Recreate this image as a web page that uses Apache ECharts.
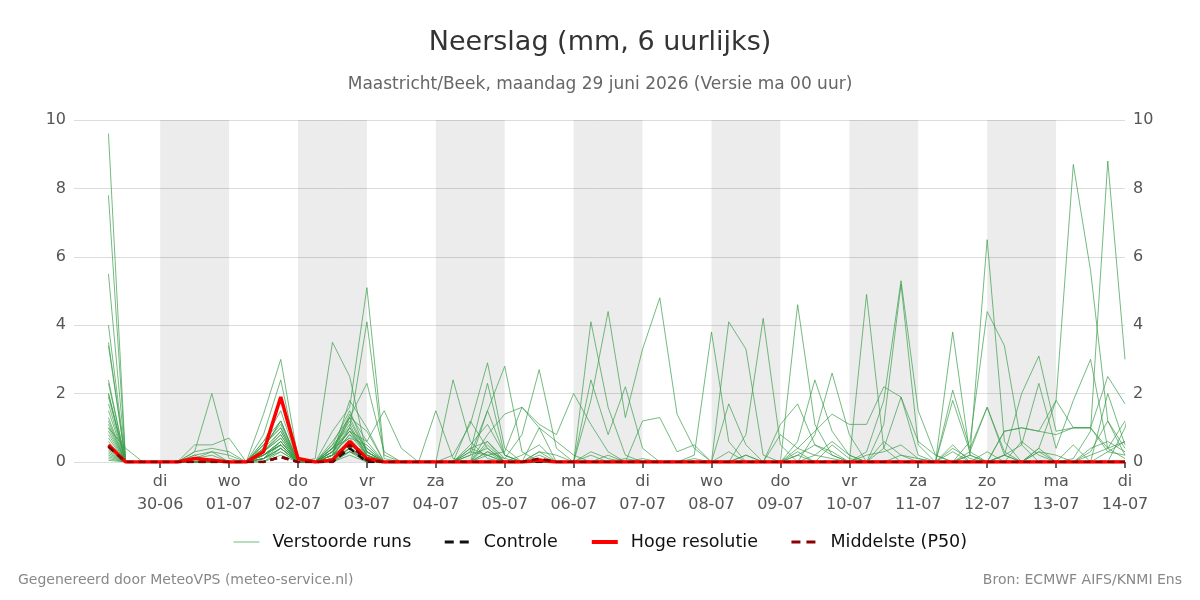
<!DOCTYPE html>
<html>
<head>
<meta charset="utf-8">
<script src="https://cdn.jsdelivr.net/npm/echarts@6/dist/echarts.min.js"></script>
<style>
  html, body { margin: 0; padding: 0; background: #fff; }
  #chart { width: 1200px; height: 600px; }
</style>
</head>
<body>
<div id="chart"></div>
<script>
// 6-hourly steps, hours relative to di 30-06 00:00
const startHour = -18;
const stepHours = 6;

const dayNames = ["di", "wo", "do", "vr", "za", "zo", "ma", "di", "wo", "do", "vr", "za", "zo", "ma", "di"];
const dayDates = ["30-06", "01-07", "02-07", "03-07", "04-07", "05-07", "06-07", "07-07", "08-07", "09-07", "10-07", "11-07", "12-07", "13-07", "14-07"];
const shadedDays = [0, 2, 4, 6, 8, 10, 12];
const yTicks = [0, 2, 4, 6, 8, 10];

// verstoorde runs (ensemble members)
const m01 = [9.6,0,0, 0,0,0.1,0.3, 0.2,0,0.6,1.2, 0,0,0.4,1.3, 0.3,0,0,0, 0,0,0.5,1.1, 0.2,0,0.3,0, 0,0,0.2,0, 0,0,0,0.1, 0,0,0.2,0, 0,0.3,0,0.5, 0.1,0,0.4,1.9, 0.2,0,0,0.3, 1.6,0.2,0,0.4, 0,0,0.3,1.2, 0.4];
const m02 = [7.8,0,0, 0,0,0,0, 0,0,0.3,0.8, 0,0,0.9,1.6, 5.1,0.2,0,0, 0,0,0,0.3, 0,0,0.1,0, 0,0,0,0, 0.1,0,0,0, 0,0,0,0, 0,0,0.2,0.1, 0,0,0,0.2, 0.1,0,0.3,0, 0,0.9,1.0,0.9, 1.8,8.7,5.6,1.2, 0.2];
const m03 = [5.5,0,0, 0,0,0.2,0, 0,0,0.2,0.5, 0,0,0.1,0.3, 0.1,0,0,0, 0,0,1.2,0.4, 0,0,0,0, 0,0,0,0, 0,0,0,0, 0,0,0,0, 0,0,0,0, 0,0,0,0, 0,0,0,0.2, 0,0,0,0, 0,0.1,0.9,8.8, 3.0];
const m04 = [4.0,0,0, 0,0,0,0, 0,0,0.4,0.9, 0,0,0.2,0.8, 0.4,0,0,0, 0,0,0.3,0.2, 0,0,0,0, 0,0,0,0, 0,0,0,0, 0,0,0,0, 0,0,0,0, 0,0,0,0, 0,0,0,0.2, 6.5,0.6,0,0.3, 0,0,0.2,0.4, 0.6];
const m05 = [3.5,0,0, 0,0,0,0, 0,0,0.2,0.6, 0,0,0.3,1.0, 4.1,0.1,0,0, 0,0,0,0, 0,0,0.2,0, 0,0,0,0, 0,0,0,0, 0,0,0,0, 0,0.2,0,0, 0,0,0,0, 0,0,0,0, 0,0,0,0, 0,0,0,0.3, 0.2];
const m06 = [3.4,0,0, 0,0,0,0, 0,0,0.1,0.4, 0,0.1,3.5,2.5, 0.2,0,0,0, 0,0,0.4,0.2, 0,0,0,0, 0,0,0,0, 0,0,0,0, 0,0,0,0, 0,0,0,0, 0,0,0,0, 0,0,0,0, 0,0,0,0, 0,0,0,0, 0];
const m07 = [2.4,0,0, 0,0,0,0, 0,0,1.4,3.0, 0.1,0,0.3,0.9, 0.2,0,0,0, 0,0,0,0.5, 0,0,0,0, 0,4.1,1.6,0.2, 0,0,0,0, 0,0,0,0, 0,0,0,0, 0,0,0,0, 0,0,0,0, 0,0,0,0, 0,0,0,0, 0];
const m08 = [2.3,0,0, 0,0,0,0, 0,0,0.8,2.4, 0,0,0.5,1.5, 0.3,0,0,0, 0,0,0,0, 0,0,0,0, 0,1.8,4.4,1.3, 3.3,4.8,1.4,0.4, 0,0,0,0, 0,0,0,0, 0,0,0,0, 0,0,0,0, 0,0,0,0, 0,0,0,0, 0];
const m09 = [2.0,0,0, 0,0,0.3,2.0, 0.1,0,0.5,1.0, 0,0,0.2,1.8, 1.0,0,0,0, 0,0,0,1.5, 0.2,0,0,0, 0,0,0,0, 0,0,0,0, 0,0,0,0, 0,0,0,0, 0,0,0,0, 0,0,0,0, 0,0,0,0, 0,0,0,0, 0];
const m10 = [1.9,0,0, 0,0,0,0, 0,0,0.6,1.5, 0,0,0.3,0.7, 0.5,0,0,0, 0,0.2,1.1,2.9, 0.4,0,0,0, 0,0,0,0, 0,0,0,0.2, 3.8,0.6,0,0, 0,0,0,0, 0,0,0,0, 0,0,0,0, 0,0,0,0, 0,0,0,0, 0];
const m11 = [1.7,0,0, 0,0,0,0, 0,0,0.4,1.2, 0,0,0.6,1.3, 0.9,0,0,0, 0,0,0.2,1.5, 2.8,0.3,0,0, 0,0,0,0, 0,0,0,0, 0,4.1,3.3,0.2, 0,0,0,0, 0,0,0,0, 0,0,0,0, 0,0,0,0, 0,0,0,0, 0];
const m12 = [1.5,0,0, 0,0,0,0, 0,0,0.3,0.8, 0,0,0.1,1.0, 0.4,0,0,0, 0,0,0,0.3, 0.1,0.8,2.7,0.4, 0,0,0,0, 0,0,0,0, 0,0,0.8,4.2, 0.5,0,0,0, 0,0,0,0, 0,0,0,0, 0,0,0,0, 0,0,0,0, 0];
const m13 = [1.3,0,0, 0,0,0,0, 0,0,0.2,0.6, 0,0,0.2,0.5, 0.3,0,0,0, 0,2.4,0.6,0.1, 0,0,0,0, 0,0,0,0, 0,0,0,0, 0,0,0,0, 0,4.6,1.1,0.2, 0,0,0,0, 0,0,0,0, 0,0,0,0, 0,0,0,0, 0];
const m14 = [1.2,0,0, 0,0,0,0, 0,0,0.1,0.5, 0,0,0.4,1.1, 0.2,0,0,0, 0,0,0.3,2.3, 0.2,0,0,0, 0,0,0,0, 0,0,0,0, 0,0,0,0, 0,0,0,0, 0,4.9,0.4,0, 0,0,0,0, 0,0,0,0, 0,0,0,0, 0];
const m15 = [1.1,0,0, 0,0,0,0, 0,0,0,0.4, 0,0,0,0.3, 0.1,0,0,0, 0,0,0,0, 0,0,0,0, 0,0,0,0, 0,0,0,0, 0,0,0,0, 0,0,0,0, 0,0.3,1.8,5.3, 1.5,0.2,0,0, 0,0,0,0, 0,0,0,0, 0];
const m16 = [1.0,0,0, 0,0,0,0, 0,0,0.3,0.9, 0,0,0.2,0.8, 0.2,0,0,0, 0,0,0,0, 0,0,0,0, 0,0,0,0, 0,0,0,0, 0,0,0,0, 0,0,0,0, 0,0,1.1,5.2, 0.5,0,3.8,0.2, 0,0,0,0, 0,0,0,0, 0];
const m17 = [0.9,0,0, 0,0,0,0, 0,0,0.2,0.5, 0,0,0.3,1.4, 0.6,0,0,0, 0,0,0,0, 0,0,0,0, 0,0,0,0, 0,0,0,0, 0,0,0,0, 0,0,0,0, 0,0,0,0, 0,0,0,0.6, 4.4,3.4,0.5,0, 0,0,0,0, 0];
const m18 = [0.8,0,0, 0,0,0,0, 0,0,0.1,0.4, 0,0,0.1,0.6, 0.1,0,0,0, 0,0,0,0, 0,0,0,0, 0,0,0,0, 0,0,0,0, 0,0,0,0, 0,0,0,0, 0,0,0,0, 0,0,0,0, 0,0.2,2.0,3.1, 0.9,1.0,1.0,0.4, 0.1];
const m19 = [0.7,0,0, 0,0,0,0, 0,0,0.2,0.6, 0,0,0.5,1.0, 0.2,0,0,0, 0,0,0,0.6, 0,0,0,0, 0,0,0,0, 0,0,0,0, 0,0,0,0, 0,0,0,0, 0,0,0,0, 0,0,0,0, 0,0,0,0, 0,0,0,0, 1.0,3.0,1.0,0.3, 0.5];
const m20 = [0.6,0,0, 0,0,0,0, 0,0,0.5,1.0, 0,0,0.4,0.9, 0.3,0,0,0, 0,0,0,0.2, 0.3,1.6,1.1,0.8, 2.0,1.1,0.3,0, 0,0,0,0, 0,0,0,0, 0,0,0,0, 0,0,0,0, 0,0,0,0, 0,0,0,0, 0,0,0,0, 0];
const m21 = [0.5,0,0, 0,0,0,0, 0,0,0.3,0.7, 0,0,0.2,0.5, 0.1,0,0,0, 0,0,0,0, 0,0,0,0, 0,2.4,0.8,2.2, 0.4,0,0,0, 0,0,0,0, 0,0,0.8,2.6, 0.8,0,0,0, 0,0,0,0, 0,0,0,0, 0,0,0,0, 0];
const m22 = [0.45,0,0, 0,0,0,0, 0,0,0.1,0.4, 0,0,0.2,0.5, 0.2,0,0,0, 0,0,0,0, 0,0,1.0,0, 0,0,0,0, 0,0,0,0, 0,1.7,0.5,0, 0,0.6,2.4,0.9, 0.2,0,0,0, 0,0,0,0, 0,0,0,0, 0,0,0,0, 0];
const m23 = [0.4,0,0, 0,0,0,0, 0,0,0.2,0.5, 0,0,0.1,0.4, 0,0,0,0, 0,0,0,0, 0,0,0,0, 0,0,0,0, 0,0,0,0, 0,0,0,0, 0.8,0.4,0.9,1.4, 1.1,1.1,2.2,1.9, 0.6,0.2,0,0, 0,0,0,0, 0,0,0,0, 0];
const m24 = [0.35,0,0, 0,0,0,0, 0,0,0.1,0.3, 0,0,0,0.2, 0,0,0,0, 0,0,0,0, 0,0,0,0, 0,0,0,0, 0,0,0,0, 0,0,0,0, 0,0,0,0, 0,0,0,0, 0,0,2.1,0.4, 1.6,0.3,0,0.4, 1.8,1.0,1.0,2.5, 1.7];
const m25 = [0.3,0,0, 0,0,0,0, 0,0,0,0.2, 0,0,0,0.4, 0,0,0,0, 0,0,0,0, 0,0,0,0, 0,0,0,0, 0,0,0,0, 0,0,0,0, 0,0,0,0, 0,0,0,0, 0,0,1.8,0.3, 0,0.2,0.5,2.3, 0.4,1.8,3.0,0.4, 1.2];
const m26 = [0.25,0,0, 0,0,0,0, 0,0,0,0.3, 0,0,0,0.3, 0,0,0,0, 1.5,0.1,0,0.8, 1.4,1.6,1.0,0.6, 0.2,0,0,0, 0,0,0,0, 0,0,0,0, 0,0,0,0, 0,0,0,0, 0,0,0,0, 0,0,0,0, 0,0,0,0, 0];
const m27 = [0.2,0,0, 0,0,0.5,0.5, 0.7,0,0.2,0.5, 0,0,0.3,0.9, 0.6,1.5,0.4,0, 0,0,0,0, 0,0,0,0, 0,0,0,0, 0,0,0,0, 0,0,0,0, 0,0,0,0, 0,0,0,0, 0,0,0,0, 0,0,0,0, 0,0,0,0, 0];
const m28 = [0.15,0,0, 0,0,0.3,0.4, 0.3,0,0.1,0.6, 0,0,0.2,1.3, 2.3,0.3,0,0, 0,0,0,0, 0,0,0,0, 0,0,0,0, 0,0,0,0, 0,0,0,0, 0,0,0,0, 0,0,0,0, 0,0,0,0, 0,0,0,0, 0,0,0,0, 0];
const m29 = [1.0,0.4,0, 0,0,0.2,0.3, 0,0,0.4,1.2, 0,0,0.1,0.4, 0,0,0,0, 0,0,0,0, 0,0,0,0, 0,0,0,0, 1.2,1.3,0.3,0.5, 0,0,0,0, 0,0,0,0, 0,0,0,0, 0,0,0,0, 0,0,0,0, 0,0,0,0, 0];
const m30 = [2.0,0,0, 0,0,0,0, 0,0,0.5,1.1, 0,0,0.4,1.2, 0.3,0,0,0, 0,0,0,0, 0,0,0,0, 0,0,0,0, 0,0,0,0, 0,0,0,0, 1.1,1.7,0.5,0.2, 0,0,0,0, 0,0,0,0, 0,0.9,1.0,0.9, 0.8,1.0,1.0,0.3, 0.6];
const m31 = [0.1,0,0, 0,0,0.1,0.2, 0,0,0.3,0.7, 0,0,0.2,0.6, 0.2,0,0,0, 0,0,0.4,0.6, 0.1,0,0.3,0.2, 0,0.3,0.1,0, 0,0,0,0, 0,0.3,0,0, 0,0.2,0.5,0.3, 0,0.2,0.3,0.5, 0.1,0,0.4,0.1, 0,0.2,0,0.3, 0.2,0,0.4,0.6, 0.3];
const m32 = [0.05,0,0, 0,0,0,0.1, 0,0,0.2,0.5, 0,0,0.4,0.7, 0.1,0,0,0, 0,0,0.2,0.4, 0,0.2,0.5,0, 0,0.2,0,0.1, 0,0,0,0, 0,0,0.2,0, 0,0.4,0.2,0.6, 0.2,0,0.6,0.2, 0,0,0.5,0, 0.3,0,0.6,0.2, 0,0.5,0,2.0, 0.5];
const members = [m01, m02, m03, m04, m05, m06, m07, m08, m09, m10, m11, m12, m13, m14, m15, m16,
                 m17, m18, m19, m20, m21, m22, m23, m24, m25, m26, m27, m28, m29, m30, m31, m32];

const controle = [0.45,0,0, 0,0,0,0, 0,0,0,0.15, 0,0,0,0.4, 0,0,0,0, 0,0,0,0, 0,0,0,0, 0,0,0,0, 0,0,0,0, 0,0,0,0, 0,0,0,0, 0,0,0,0, 0,0,0,0, 0,0,0,0, 0,0,0,0, 0];
const hogeResolutie = [0.5,0,0, 0,0,0.1,0.05, 0,0,0.3,1.9, 0.1,0,0.05,0.6, 0.1,0,0,0, 0,0,0,0, 0,0,0.05,0, 0,0,0,0, 0,0,0,0, 0,0,0,0, 0,0,0,0, 0,0,0,0, 0,0,0,0, 0,0,0,0, 0,0,0,0, 0];
const middelste = [0.45,0,0, 0,0,0,0, 0,0,0,0.15, 0,0,0,0.5, 0.05,0,0,0, 0,0,0,0, 0,0,0.1,0, 0,0,0,0, 0,0,0,0, 0,0,0,0, 0,0,0,0, 0,0,0,0, 0,0,0,0, 0,0,0,0, 0,0,0,0, 0];

function toPoints(values) {
  return values.map((v, i) => [startHour + i * stepHours, v]);
}

const chart = echarts.init(document.getElementById("chart"));
const font = "DejaVu Sans";
const dayHours = dayNames.map((d, i) => i * 24);

const memberSeries = members.map((m, k) => ({
  name: "Verstoorde runs",
  type: "line",
  data: toPoints(m),
  symbol: "none",
  silent: true,
  lineStyle: { color: "#3a9d4a", width: 1, opacity: 0.7 },
  itemStyle: { color: "#3a9d4a" },
  markArea: k === 0 ? {
    silent: true,
    itemStyle: { color: "rgba(0,0,0,0.075)" },
    data: shadedDays.map(d => [{ xAxis: d * 24 }, { xAxis: d * 24 + 24 }])
  } : undefined
}));

chart.setOption({
  animation: false,
  textStyle: { fontFamily: font },
  title: [
    {
      text: "Neerslag (mm, 6 uurlijks)",
      left: "center",
      top: 24,
      textStyle: { fontSize: 27, fontWeight: "normal", color: "#333", fontFamily: font }
    },
    {
      text: "Maastricht/Beek, maandag 29 juni 2026 (Versie ma 00 uur)",
      left: "center",
      top: 71,
      textStyle: { fontSize: 17, fontWeight: "normal", color: "#666", fontFamily: font }
    }
  ],
  graphic: [
    {
      type: "text", left: 18, top: 573,
      style: { text: "Gegenereerd door MeteoVPS (meteo-service.nl)", fill: "#888", font: "14px DejaVu Sans" }
    },
    {
      type: "text", right: 18, top: 573,
      style: { text: "Bron: ECMWF AIFS/KNMI Ens", fill: "#888", font: "14px DejaVu Sans" }
    }
  ],
  legend: {
    bottom: 44,
    left: "center",
    itemWidth: 26,
    itemHeight: 10,
    itemGap: 32,
    itemStyle: { opacity: 0 },
    textStyle: { fontSize: 17.5, color: "#111", fontFamily: font, padding: [0, 0, 0, 8] },
    data: [
      { name: "Verstoorde runs", lineStyle: { width: 1, opacity: 0.7 } },
      { name: "Controle", lineStyle: { width: 3, type: [9, 6] } },
      { name: "Hoge resolutie", lineStyle: { width: 4 } },
      { name: "Middelste (P50)", lineStyle: { width: 3, type: [9, 6] } }
    ]
  },
  grid: { left: 74, right: 75, top: 120, bottom: 138 },
  xAxis: {
    type: "value",
    min: -30,
    max: 336,
    axisLine: { show: false },
    splitLine: { show: false },
    axisTick: { show: true, length: 6, customValues: dayHours, lineStyle: { color: "#666", width: 2 } },
    axisLabel: {
      customValues: dayHours,
      fontSize: 16,
      color: "#555",
      lineHeight: 23,
      margin: 8,
      formatter: v => {
        const i = Math.round(v / 24);
        return dayNames[i] + "\n" + dayDates[i];
      }
    }
  },
  yAxis: [
    {
      type: "value", min: 0, max: 10, interval: 2,
      axisLine: { show: false }, axisTick: { show: false },
      axisLabel: { fontSize: 16, color: "#555", margin: 8, customValues: yTicks },
      splitLine: { lineStyle: { color: "#dcdcdc", width: 1 } }
    },
    {
      type: "value", min: 0, max: 10, interval: 2, position: "right",
      axisLine: { show: false }, axisTick: { show: false },
      axisLabel: { fontSize: 16, color: "#555", margin: 8, customValues: yTicks },
      splitLine: { show: false }
    }
  ],
  series: memberSeries.concat([
    {
      name: "Controle",
      type: "line",
      data: toPoints(controle),
      symbol: "none",
      lineStyle: { color: "#111", width: 2.5, type: [7, 5] },
      itemStyle: { color: "#111" }
    },
    {
      name: "Hoge resolutie",
      type: "line",
      data: toPoints(hogeResolutie),
      symbol: "none",
      lineStyle: { color: "#ff0000", width: 3.5 },
      itemStyle: { color: "#ff0000" }
    },
    {
      name: "Middelste (P50)",
      type: "line",
      data: toPoints(middelste),
      symbol: "none",
      lineStyle: { color: "#8b0000", width: 2.5, type: [7, 5] },
      itemStyle: { color: "#8b0000" }
    }
  ])
});
</script>
</body>
</html>
